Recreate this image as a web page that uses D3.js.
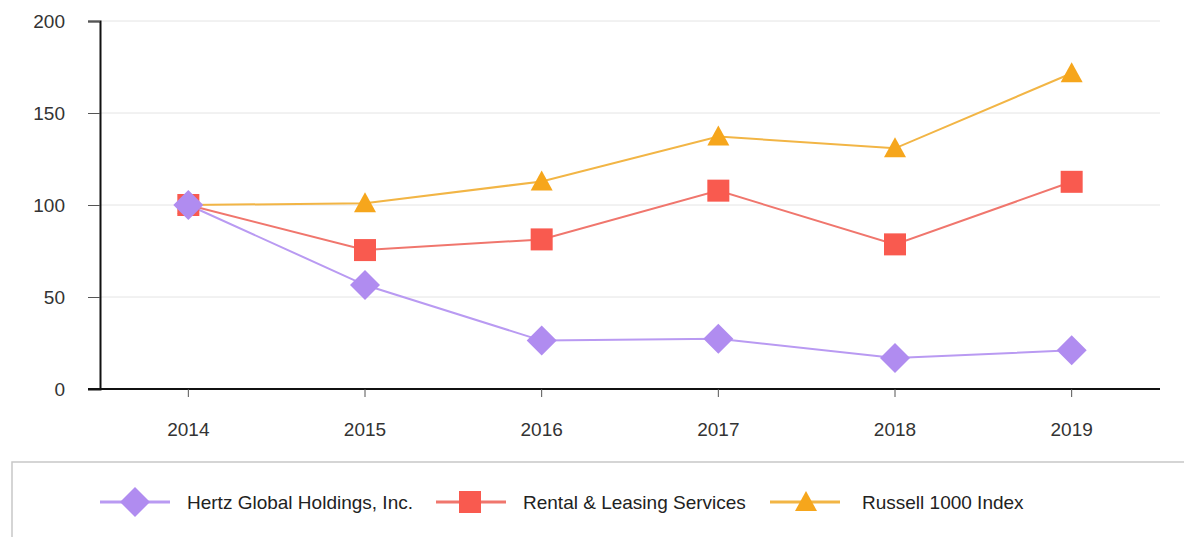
<!DOCTYPE html>
<html><head><meta charset="utf-8">
<script src="https://cdn.jsdelivr.net/npm/d3@7"></script>
<style>body{margin:0;background:#fff;}svg{display:block;font-family:"Liberation Sans",Arial,sans-serif;}</style>
</head><body>
<svg id="c" width="1184" height="537"></svg>
<script>
const years = ["2014","2015","2016","2017","2018","2019"];
const hertz = [100, 56.5, 26.3, 27.3, 16.8, 21.0];
const rental = [100, 75.5, 81.3, 107.8, 78.6, 112.6];
const russell = [100, 100.9, 112.8, 137.2, 130.8, 171.6];
const yTicks = [0, 50, 100, 150, 200];
const seriesNames = ["Hertz Global Holdings, Inc.", "Rental & Leasing Services", "Russell 1000 Index"];

const series = [
  {name: seriesNames[0], values: hertz, color: "#b08cf0", line: "#b99af2", shape: "diamond"},
  {name: seriesNames[1], values: rental, color: "#f95a4f", line: "#f0766d", shape: "square"},
  {name: seriesNames[2], values: russell, color: "#f6a61c", line: "#f2b545", shape: "triangle"}
];

const svg = d3.select("#c");
const L = 100, R = 1160, T = 21, B = 389;
const FONT = "Liberation Sans, Arial, sans-serif";
const x = d3.scaleBand().domain(years).range([L, R]);
const y = d3.scaleLinear().domain([0, 200]).range([B, T]);
const cx = d => x(d) + x.bandwidth() / 2;

// gridlines
svg.append("g").selectAll("line").data(yTicks.filter(t => t > 0)).join("line")
  .attr("x1", L).attr("x2", R).attr("y1", d => y(d)).attr("y2", d => y(d))
  .attr("stroke", "#e4e4e4").attr("stroke-width", 1);

// y axis
const ya = svg.append("g").attr("transform", `translate(${L},0)`)
  .call(d3.axisLeft(y).tickValues(yTicks).tickSize(12).tickPadding(23));
ya.select(".domain").attr("stroke", "#111").attr("stroke-width", 2);
ya.selectAll(".tick line").attr("stroke", "#555");
ya.selectAll("text").attr("font-size", 19).attr("fill", "#333").attr("font-family", FONT);

// x axis
const xa = svg.append("g").attr("transform", `translate(0,${B})`)
  .call(d3.axisBottom(x).tickSize(8).tickPadding(26).tickSizeOuter(0));
xa.select(".domain").attr("stroke", "#111").attr("stroke-width", 2).attr("d", `M${L-12},0H${R}`);
xa.selectAll(".tick line").attr("stroke", "#555");
xa.selectAll("text").attr("font-size", 19).attr("fill", "#333").attr("font-family", FONT);

function marker(g, shape, color) {
  if (shape === "diamond") {
    g.append("path").attr("d", "M0,-15L15,0L0,15L-15,0Z").attr("fill", color);
  } else if (shape === "square") {
    g.append("rect").attr("x", -11).attr("y", -11).attr("width", 22).attr("height", 22).attr("fill", color);
  } else {
    g.append("path").attr("d", "M0,-11L11,9L-11,9Z").attr("fill", color);
  }
}

const line = d3.line().x((d, i) => cx(years[i])).y(d => y(d));
[...series].reverse().forEach(s => {
  svg.append("path").datum(s.values).attr("d", line).attr("fill", "none")
    .attr("stroke", s.line).attr("stroke-width", 2);
});
[...series].reverse().forEach(s => {
  s.values.forEach((v, i) => {
    const g = svg.append("g").attr("transform", `translate(${cx(years[i])},${y(v)})`);
    marker(g, s.shape, s.color);
  });
});

// legend
svg.append("rect").attr("x", 12).attr("y", 462).attr("width", 1200).attr("height", 100)
  .attr("fill", "#fff").attr("stroke", "#c8c8c8").attr("stroke-width", 1.5);
const lineX = [100, 436, 770];
const markX = [135, 470, 806];
const textX = [187, 523, 862];
const ly = 502;
series.forEach((s, i) => {
  const g = svg.append("g");
  g.append("line").attr("x1", lineX[i]).attr("x2", lineX[i] + 70).attr("y1", ly).attr("y2", ly)
    .attr("stroke", s.line).attr("stroke-width", 3);
  const m = g.append("g").attr("transform", `translate(${markX[i]},${ly})`);
  marker(m, s.shape, s.color);
  g.append("text").attr("x", textX[i]).attr("y", ly + 6.5).attr("font-size", 19)
    .attr("fill", "#222").text(s.name);
});
</script>
</body></html>
